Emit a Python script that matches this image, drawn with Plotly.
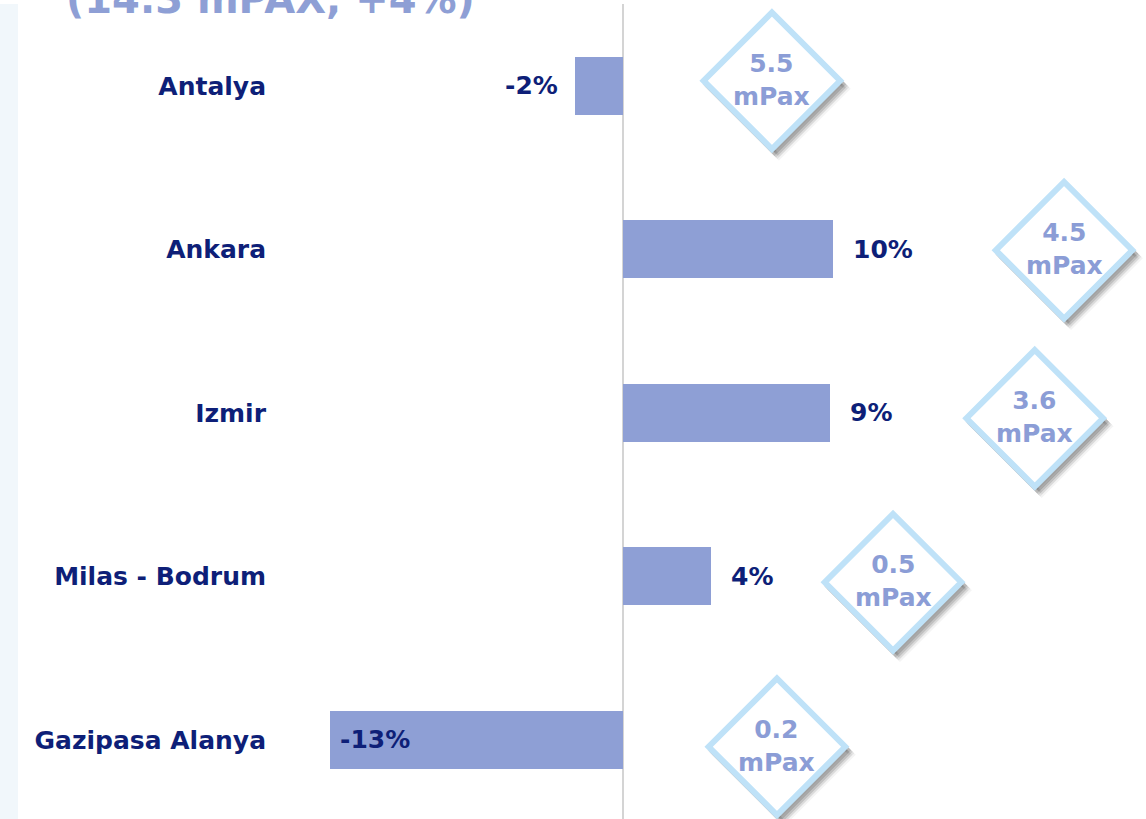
import plotly.graph_objects as go

# ---- data ----
airports = ["Antalya", "Ankara", "Izmir", "Milas - Bodrum", "Gazipasa Alanya"]
growth_pct = [-2.2, 9.6, 9.45, 4.0, -13.4]          # bar lengths (%)
growth_labels = ["-2%", "10%", "9%", "4%", "-13%"]
pax_labels = ["5.5", "4.5", "3.6", "0.5", "0.2"]      # million passengers
title_text = "(14.3 mPAX, +4%)"

# ---- layout helpers (positions, not data) ----
diamond_x = [6.8, 20.14, 18.8, 12.33, 7.03]           # x position of diamond badges
diamond_dy_px = [-5, 1, 5.5, 6, 7]                    # vertical nudge in px

W, H = 1146, 819
ML, MR, MT, MB = 280, 0, 4, 0
zero_px = 623
px_per_unit_x = 21.9
x_range = [(ML - zero_px) / px_per_unit_x, (W - MR - zero_px) / px_per_unit_x]
plot_h = H - MT - MB
px_per_cat = 163.5
y_range = [-0.5 + plot_h / px_per_cat, -0.5]

BAR = "#8e9fd5"
NAVY = "#0e1f78"
BADGE_TXT = "#8b9dd6"
BADGE_LINE = "#bfe2f8"
FONT = "DejaVu Sans"

fig = go.Figure()
fig.add_trace(go.Bar(
    x=growth_pct, y=list(range(len(airports))), orientation="h",
    marker=dict(color=BAR, line=dict(width=0)), width=0.355,
    hoverinfo="skip", showlegend=False,
))

ys = [i + d / px_per_cat for i, d in enumerate(diamond_dy_px)]
SIZE = 105
# soft shadow layers
for off, op in [(7, 0.06), (5.5, 0.09), (4, 0.13), (2.5, 0.16)]:
    fig.add_trace(go.Scatter(
        x=[v + off / px_per_unit_x for v in diamond_x],
        y=[v + (off + 1) / px_per_cat for v in ys],
        mode="markers",
        marker=dict(symbol="diamond", size=SIZE, color=f"rgba(70,70,70,{op})",
                    line=dict(width=5, color=f"rgba(70,70,70,{op})")),
        hoverinfo="skip", showlegend=False, cliponaxis=False,
    ))
fig.add_trace(go.Scatter(
    x=diamond_x, y=ys, mode="markers",
    marker=dict(symbol="diamond", size=SIZE, color="white",
                line=dict(width=6, color=BADGE_LINE)),
    hoverinfo="skip", showlegend=False, cliponaxis=False,
))

annotations = []
for i, (v, lab) in enumerate(zip(growth_pct, growth_labels)):
    if v > 0:
        a = dict(xanchor="left", xshift=18)
    elif v > -5:
        a = dict(xanchor="right", xshift=-15)
    else:
        a = dict(xanchor="left", xshift=8)
    annotations.append(dict(x=v, y=i, xref="x", yref="y", text=f"<b>{lab}</b>",
                            showarrow=False, yanchor="middle",
                            font=dict(family=FONT, size=25, color=NAVY), **a))
for i, p in enumerate(pax_labels):
    annotations.append(dict(x=diamond_x[i], y=ys[i], xref="x", yref="y",
                            text=f"<b>{p}<br>mPax</b>", showarrow=False,
                            xanchor="center", yanchor="middle", yshift=1,
                            font=dict(family=FONT, size=25, color=BADGE_TXT)))
annotations.append(dict(x=(270 - ML) / (W - ML - MR), y=1, xref="paper", yref="paper",
                        text=f"<b>{title_text}</b>", showarrow=False,
                        xanchor="center", yanchor="middle", yshift=5,
                        font=dict(family=FONT, size=40, color=BAR)))

fig.update_layout(
    width=W, height=H, margin=dict(l=ML, r=MR, t=MT, b=MB),
    paper_bgcolor="white", plot_bgcolor="white",
    bargap=0, annotations=annotations,
    shapes=[dict(type="rect", xref="paper", yref="paper",
                 x0=-ML / (W - ML - MR), x1=(18 - ML) / (W - ML - MR), y0=0, y1=1,
                 fillcolor="#f1f7fb", line=dict(width=0), layer="below")],
    xaxis=dict(range=x_range, showticklabels=False, showgrid=False,
               zeroline=True, zerolinecolor="#d4d4d4", zerolinewidth=2,
               showline=False, fixedrange=True),
    yaxis=dict(range=y_range, tickmode="array", tickvals=list(range(len(airports))),
               ticktext=[f"<b>{a}</b>" for a in airports],
               ticks="outside", ticklen=8, tickcolor="rgba(0,0,0,0)",
               tickfont=dict(family=FONT, size=25, color=NAVY),
               showgrid=False, zeroline=False, showline=False, fixedrange=True),
)

fig.write_html(
    "out.html",
    config={"displayModeBar": False},
    post_script="document.body.style.margin='0';document.body.style.overflow='hidden';",
)
